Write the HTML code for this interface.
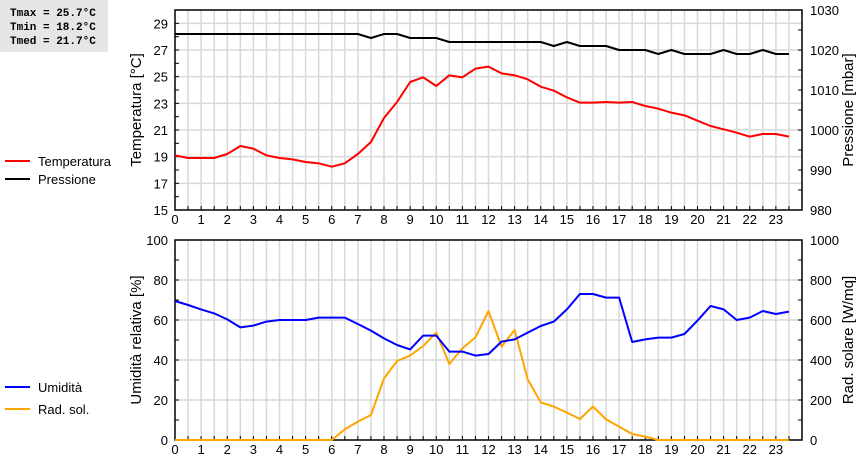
<!DOCTYPE html>
<html><head><meta charset="utf-8"><style>
body{margin:0;background:#fff;width:860px;height:460px;overflow:hidden;font-family:"Liberation Sans",sans-serif}
svg{display:block}
</style></head><body>
<svg id="c" width="860" height="460" xmlns="http://www.w3.org/2000/svg">
<rect x="0" y="0" width="108" height="52" fill="#e6e6e6"/>
<g font-family="Liberation Mono, monospace" font-size="11" font-weight="bold" fill="#000">
<text x="10" y="16">Tmax = 25.7°C</text>
<text x="10" y="30">Tmin = 18.2°C</text>
<text x="10" y="44">Tmed = 21.7°C</text>
</g>
<g font-size="13">
<line x1="5" y1="161" x2="30" y2="161" stroke="#f00" stroke-width="2"/><text x="38" y="166">Temperatura</text>
<line x1="5" y1="179" x2="30" y2="179" stroke="#000" stroke-width="2"/><text x="38" y="184">Pressione</text>
</g>
<g font-size="13">
<line x1="5" y1="387" x2="30" y2="387" stroke="#00f" stroke-width="2"/><text x="38" y="392">Umidità</text>
<line x1="5" y1="409" x2="30" y2="409" stroke="#ffa500" stroke-width="2"/><text x="38" y="414">Rad. sol.</text>
</g>
<g font-size="15">
<text transform="translate(141,110) rotate(-90)" text-anchor="middle">Temperatura [°C]</text>
<text transform="translate(853,110) rotate(-90)" text-anchor="middle">Pressione [mbar]</text>
<text transform="translate(141,340) rotate(-90)" text-anchor="middle">Umidità relativa [%]</text>
<text transform="translate(853,340) rotate(-90)" text-anchor="middle">Rad. solare [W/mq]</text>
</g>
</svg>
<script>
const hours=[0,0.5,1,1.5,2,2.5,3,3.5,4,4.5,5,5.5,6,6.5,7,7.5,8,8.5,9,9.5,10,10.5,11,11.5,12,12.5,13,13.5,14,14.5,15,15.5,16,16.5,17,17.5,18,18.5,19,19.5,20,20.5,21,21.5,22,22.5,23,23.5];
const temperature=[19.1,18.9,18.9,18.9,19.2,19.8,19.6,19.1,18.9,18.8,18.6,18.5,18.25,18.5,19.2,20.1,21.9,23.1,24.6,24.95,24.3,25.1,24.95,25.6,25.75,25.25,25.1,24.8,24.25,23.95,23.45,23.05,23.05,23.1,23.05,23.1,22.8,22.6,22.3,22.1,21.7,21.3,21.05,20.8,20.5,20.7,20.7,20.5];
const pressure=[1024,1024,1024,1024,1024,1024,1024,1024,1024,1024,1024,1024,1024,1024,1024,1023,1024,1024,1023,1023,1023,1022,1022,1022,1022,1022,1022,1022,1022,1021,1022,1021,1021,1021,1020,1020,1020,1019,1020,1019,1019,1019,1020,1019,1019,1020,1019,1019];
const humidity=[69.5,67.5,65.3,63.3,60.3,56.3,57.2,59.2,60,60,60,61.2,61.2,61.2,58,54.7,50.8,47.5,45.3,52.2,52.2,44.2,44.2,42.2,43,49.2,50.3,53.7,57,59.2,65.3,73,73,71.2,71.2,49,50.3,51.2,51.2,53,59.7,67,65.3,60,61.2,64.5,63,64.2];
const radiation=[0,0,0,0,0,0,0,0,0,0,0,0,0,53,92,125,308,395,422,470,537,380,458,513,645,467,550,303,188,167,137,105,167,103,67,30,17,0,0,0,0,0,0,0,0,0,0,0];
const xTicks=[0,1,2,3,4,5,6,7,8,9,10,11,12,13,14,15,16,17,18,19,20,21,22,23];
const tempTicks=[15,17,19,21,23,25,27,29];
const pressTicks=[980,990,1000,1010,1020,1030];
const humTicks=[0,20,40,60,80,100];
const radTicks=[0,200,400,600,800,1000];

const svgEl=document.getElementById('c');
const NS='http://www.w3.org/2000/svg';
const X0=175,X1=802;
const xs=h=>X0+h*(X1-X0)/24;
function mk(tag,attrs,parent){const e=document.createElementNS(NS,tag);for(const k in attrs)e.setAttribute(k,attrs[k]);(parent||svgEl).appendChild(e);return e;}
function panel(pTop,pBot,lmin,lmax,rmin,rmax,lTicks,rTicks,lMinorStep,rMinorStep,name){
  const g=mk('g',{});
  
  
  const yl=v=>pBot-(v-lmin)*(pBot-pTop)/(lmax-lmin);
  const yr=v=>pBot-(v-rmin)*(pBot-pTop)/(rmax-rmin);
  for(let h=0.5;h<24;h+=0.5){mk('line',{x1:xs(h),x2:xs(h),y1:pTop,y2:pBot,stroke:'#d8d8d8','stroke-width':1.5},g);}
  lTicks.forEach(v=>{if(v>lmin&&v<lmax)mk('line',{x1:X0,x2:X1,y1:yl(v),y2:yl(v),stroke:'#d8d8d8','stroke-width':1.5},g);});
  for(let v=lmin;v<=lmax;v+=lMinorStep){mk('line',{x1:X0,x2:X0+4,y1:yl(v),y2:yl(v),stroke:'#000'},g);}
  for(let v=rmin;v<=rmax;v+=rMinorStep){mk('line',{x1:X1-4,x2:X1,y1:yr(v),y2:yr(v),stroke:'#000'},g);}
  for(let h=0;h<=24;h+=0.5){mk('line',{x1:xs(h),x2:xs(h),y1:pBot-4,y2:pBot,stroke:'#000'},g);}
  mk('rect',{x:X0,y:pTop,width:X1-X0,height:pBot-pTop,fill:'none',stroke:'#000','stroke-width':1.5},g);
  lTicks.forEach(v=>{const t=mk('text',{x:168,y:yl(v)+5,'text-anchor':'end','font-size':13},g);t.textContent=v;});
  rTicks.forEach(v=>{const t=mk('text',{x:810,y:yr(v)+5,'font-size':13},g);t.textContent=v;});
  xTicks.forEach(v=>{const t=mk('text',{x:xs(v),y:pBot+14,'text-anchor':'middle','font-size':13},g);t.textContent=v;});
  return {yl,yr};
}
function drawLine(vals,yf,color,name){
  const p=mk('polyline',{points:vals.map((v,i)=>xs(hours[i])+','+yf(v)).join(' '),fill:'none',stroke:color,'stroke-width':2,'stroke-linejoin':'round'});
  
  
}
const topPanel=panel(10,210,15,30,980,1030,tempTicks,pressTicks,1,5,'top-panel');
drawLine(pressure,topPanel.yr,'#000','pressure-line');
drawLine(temperature,topPanel.yl,'#f00','temperature-line');
const botPanel=panel(240,440,0,100,0,1000,humTicks,radTicks,10,100,'bottom-panel');
drawLine(radiation,botPanel.yr,'#ffa500','radiation-line');
drawLine(humidity,botPanel.yl,'#00f','humidity-line');
</script>
</body></html>
